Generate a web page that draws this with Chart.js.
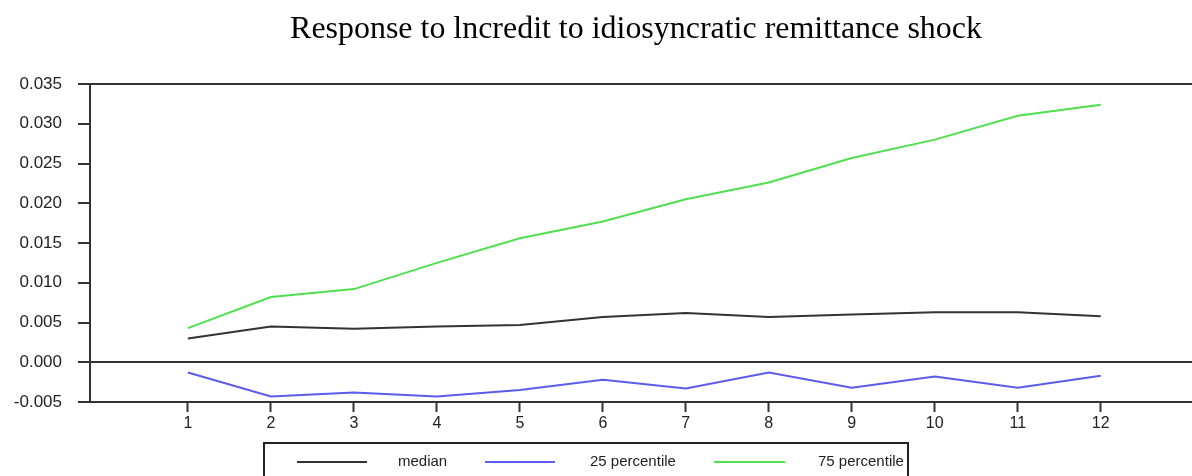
<!DOCTYPE html>
<html>
<head>
<meta charset="utf-8">
<script src="https://cdn.jsdelivr.net/npm/chart.js@4.4.1/dist/chart.umd.min.js"></script>
<style>
html,body{margin:0;padding:0;background:#fff;}
#wrap{position:relative;width:1192px;height:476px;}
</style>
</head>
<body>
<div id="wrap"><canvas id="c" width="1192" height="476"></canvas></div>
<script>
const titleText = "Response to lncredit to idiosyncratic remittance shock";
const periods = [1,2,3,4,5,6,7,8,9,10,11,12];
const median = [0.0030,0.0045,0.0042,0.0045,0.0047,0.0057,0.0062,0.0057,0.0060,0.0063,0.0063,0.0058];
const p25 = [-0.0013,-0.0043,-0.0038,-0.0043,-0.0035,-0.0022,-0.0033,-0.0013,-0.0032,-0.0018,-0.0032,-0.0017];
const p75 = [0.0043,0.0082,0.0092,0.0125,0.0156,0.0177,0.0205,0.0226,0.0257,0.0280,0.0310,0.0324];
const seriesNames = ["median","25 percentile","75 percentile"];
const seriesColors = ["#333333","#5b5bee","#4fe04f"];
const yTicks = [-0.005,0.000,0.005,0.010,0.015,0.020,0.025,0.030,0.035];

const pts = arr => arr.map((v,i)=>({x:periods[i], y:v}));

const overlay = {
  id:'overlay',
  afterDraw(chart){
    const ctx = chart.ctx;
    ctx.save();
    let size = 26;
    ctx.font = size + "px 'Liberation Serif','Times New Roman',serif";
    const w = ctx.measureText(titleText).width;
    size = size * 692 / w;
    ctx.font = size.toFixed(2) + "px 'Liberation Serif','Times New Roman',serif";
    ctx.fillStyle = '#000';
    ctx.textAlign = 'center';
    ctx.textBaseline = 'alphabetic';
    ctx.fillText(titleText, 636, 38);
    ctx.strokeStyle = '#222';
    ctx.lineWidth = 2;
    ctx.strokeRect(264, 443, 644, 60);
    const items = [
      {x1:297, x2:367, tx:398},
      {x1:485, x2:555, tx:590},
      {x1:714, x2:785, tx:818}
    ];
    ctx.font = "15px 'Liberation Sans',Arial,sans-serif";
    ctx.textAlign = 'left';
    ctx.textBaseline = 'middle';
    items.forEach((it,i)=>{
      ctx.strokeStyle = seriesColors[i];
      ctx.lineWidth = 2;
      ctx.beginPath(); ctx.moveTo(it.x1,462); ctx.lineTo(it.x2,462); ctx.stroke();
      ctx.fillStyle = '#222';
      ctx.fillText(seriesNames[i], it.tx, 462);
    });
    ctx.restore();
  }
};

new Chart(document.getElementById('c'), {
  type:'line',
  data:{
    datasets:[
      {label:seriesNames[0], data:pts(median), borderColor:seriesColors[0], borderWidth:2, pointRadius:0, tension:0},
      {label:seriesNames[1], data:pts(p25), borderColor:seriesColors[1], borderWidth:2, pointRadius:0, tension:0},
      {label:seriesNames[2], data:pts(p75), borderColor:seriesColors[2], borderWidth:2, pointRadius:0, tension:0}
    ]
  },
  options:{
    responsive:false,
    animation:false,
    events:[],
    layout:{padding:{top:84,right:0,left:0,bottom:0}},
    plugins:{legend:{display:false}, title:{display:false}, tooltip:{enabled:false}},
    scales:{
      x:{
        type:'linear',
        min:-0.18, max:13.1,
        afterBuildTicks(s){ s.ticks = periods.map(v=>({value:v})); },
        afterFit(s){ s.height = 74; },
        grid:{drawOnChartArea:false, drawTicks:true, tickLength:10, tickColor:'#333', tickWidth:2, color:'rgba(0,0,0,0)'},
        border:{display:true, color:'#333', width:2},
        ticks:{font:{family:"'Liberation Sans',Arial,sans-serif", size:16}, color:'#222', padding:2, maxRotation:0, autoSkip:false,
               callback:v=>String(v)}
      },
      y:{
        type:'linear',
        min:-0.005, max:0.035,
        afterBuildTicks(s){ s.ticks = yTicks.map(v=>({value:v})); },
        afterFit(s){ s.width = 90; },
        grid:{drawOnChartArea:true, drawTicks:true, tickLength:12, tickColor:'#333', tickWidth:2,
              lineWidth:2,
              color:c=> (Math.abs(c.tick.value)<1e-9 || Math.abs(c.tick.value-0.035)<1e-9) ? '#333' : 'rgba(0,0,0,0)'},
        border:{display:true, color:'#333', width:2},
        ticks:{font:{family:"'Liberation Sans',Arial,sans-serif", size:17}, color:'#222', padding:16,
               callback:v=>v.toFixed(3)}
      }
    }
  },
  plugins:[overlay]
});
</script>
</body>
</html>
